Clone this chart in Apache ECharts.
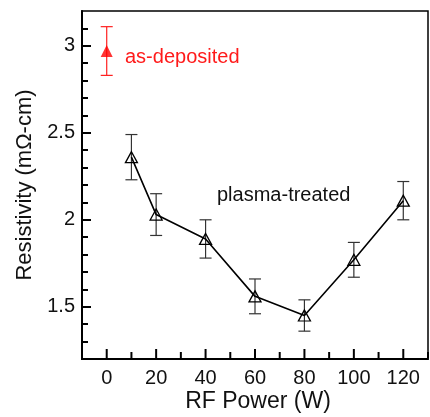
<!DOCTYPE html>
<html><head><meta charset="utf-8">
<script src="https://cdn.jsdelivr.net/npm/echarts@6/dist/echarts.min.js"></script>
<style>html,body{margin:0;padding:0;background:#fff}#c{width:430px;height:417px}</style>
</head><body><div id="c"></div>
<script>
var powerW = [10, 20, 40, 60, 80, 100, 120];
var plasmaRes = [2.36, 2.03, 1.89, 1.56, 1.45, 1.77, 2.11];
var plasmaErr = [0.13, 0.12, 0.11, 0.10, 0.09, 0.10, 0.11];
var asDepPower = [0];
var asDepRes = [2.97];
var asDepErr = [0.14];
var xRange = [-10, 130];
var yRange = [1.2, 3.2];
var xMajor = [0, 20, 40, 60, 80, 100, 120];
var xMinor = [-10, 10, 30, 50, 70, 90, 110, 130];
var yMajor = [1.5, 2, 2.5, 3];
var yMinor = [1.3, 1.4, 1.6, 1.7, 1.8, 1.9, 2.1, 2.2, 2.3, 2.4, 2.6, 2.7, 2.8, 2.9, 3.1];

var FONT = 'Liberation Sans, Arial, sans-serif';
var chart = echarts.init(document.getElementById('c'));

function errData(xs, ys, es){ return xs.map(function(x,i){ return [x, ys[i]-es[i], ys[i]+es[i]]; }); }
function errRender(color){
  return function(params, api){
    var lo = api.coord([api.value(0), api.value(1)]);
    var hi = api.coord([api.value(0), api.value(2)]);
    var w = 6;
    var st = {stroke: color, lineWidth: 1.2};
    return {type:'group', children:[
      {type:'line', shape:{x1:lo[0],y1:lo[1],x2:hi[0],y2:hi[1]}, style:st},
      {type:'line', shape:{x1:lo[0]-w,y1:lo[1],x2:lo[0]+w,y2:lo[1]}, style:st},
      {type:'line', shape:{x1:hi[0]-w,y1:hi[1],x2:hi[0]+w,y2:hi[1]}, style:st}
    ]};
  };
}
// bottom axis line + inward x ticks, positioned through the axis scales
var xTickData = xMajor.map(function(v){return [v, 9];}).concat(xMinor.map(function(v){return [v, 6];}));
function xTickRender(params, api){
  var p = api.coord([api.value(0), yRange[0]]);
  var len = api.value(1);
  var children = [{type:'line', shape:{x1:p[0], y1:p[1]-1, x2:p[0], y2:p[1]-1-len}, style:{stroke:'#000', lineWidth:2}}];
  if (params.dataIndex === 0) {
    var a = api.coord([xRange[0], yRange[0]]), b = api.coord([xRange[1], yRange[0]]);
    children.push({type:'line', shape:{x1:a[0]-1, y1:a[1], x2:b[0], y2:b[1]}, style:{stroke:'#000', lineWidth:2}});
  }
  return {type:'group', children:children};
}

chart.setOption({
  animation:false,
  grid:{left:82, right:2, top:11, bottom:58, outerBoundsMode:'none', show:true, borderColor:'#000', borderWidth:1.5},
  xAxis:[
    {type:'value', min:xRange[0], max:xRange[1], position:'bottom',
      axisLine:{show:true, onZero:false, lineStyle:{color:'#000', width:2}},
      axisTick:{show:false},
      axisLabel:{customValues:xMajor, fontFamily:FONT, fontSize:20, color:'#111', margin:9},
      splitLine:{show:false}}
  ],
  yAxis:[
    {type:'value', min:yRange[0], max:yRange[1], position:'left',
      name:'Resistivity (mΩ-cm)', nameLocation:'middle', nameGap:43,
      nameTextStyle:{fontFamily:FONT, fontSize:22, color:'#111'},
      axisLine:{show:true, onZero:false, lineStyle:{color:'#000', width:2}},
      axisTick:{show:false},
      axisLabel:{customValues:yMajor, fontFamily:FONT, fontSize:20, color:'#111', margin:7},
      splitLine:{show:false}},
    {type:'value', min:yRange[0], max:yRange[1], position:'left', axisLine:{show:false, onZero:false},
      axisTick:{show:true, inside:true, length:9, customValues:yMajor, lineStyle:{color:'#000', width:2}},
      axisLabel:{show:false}, splitLine:{show:false}},
    {type:'value', min:yRange[0], max:yRange[1], position:'left', axisLine:{show:false, onZero:false},
      axisTick:{show:true, inside:true, length:6, customValues:yMinor, lineStyle:{color:'#000', width:2}},
      axisLabel:{show:false}, splitLine:{show:false}}
  ],
  graphic:[
    {type:'text', left:125, top:47, style:{text:'as-deposited', font:'20px '+FONT, fill:'#ff1a1a'}},
    {type:'text', left:217, top:185, style:{text:'plasma-treated', font:'20px '+FONT, fill:'#111'}},
    {type:'text', x:258, y:402, style:{text:'RF Power (W)', font:'23px '+FONT, fill:'#111', align:'center', verticalAlign:'middle'}}
  ],
  series:[
    {type:'custom', name:'xTicks', renderItem:xTickRender, data:xTickData, encode:{x:0}, clip:false, silent:true, z:10},
    {type:'custom', name:'errPlasma', renderItem:errRender('#333'), data:errData(powerW, plasmaRes, plasmaErr), encode:{x:0,y:[1,2]}, z:2},
    {type:'custom', name:'errAsDep', renderItem:errRender('#ff2020'), data:errData(asDepPower, asDepRes, asDepErr), encode:{x:0,y:[1,2]}, z:2},
    {type:'line', name:'plasma-treated', data:powerW.map(function(x,i){return [x, plasmaRes[i]];}),
      lineStyle:{color:'#000', width:1.6}, symbol:'triangle', symbolSize:[12,11],
      itemStyle:{color:'rgba(0,0,0,0)', borderColor:'#000', borderWidth:1.3}, z:3},
    {type:'scatter', name:'as-deposited', data:asDepPower.map(function(x,i){return [x, asDepRes[i]];}),
      symbol:'triangle', symbolSize:[12,12], itemStyle:{color:'#ff0000'}, z:4}
  ]
});
</script></body></html>
